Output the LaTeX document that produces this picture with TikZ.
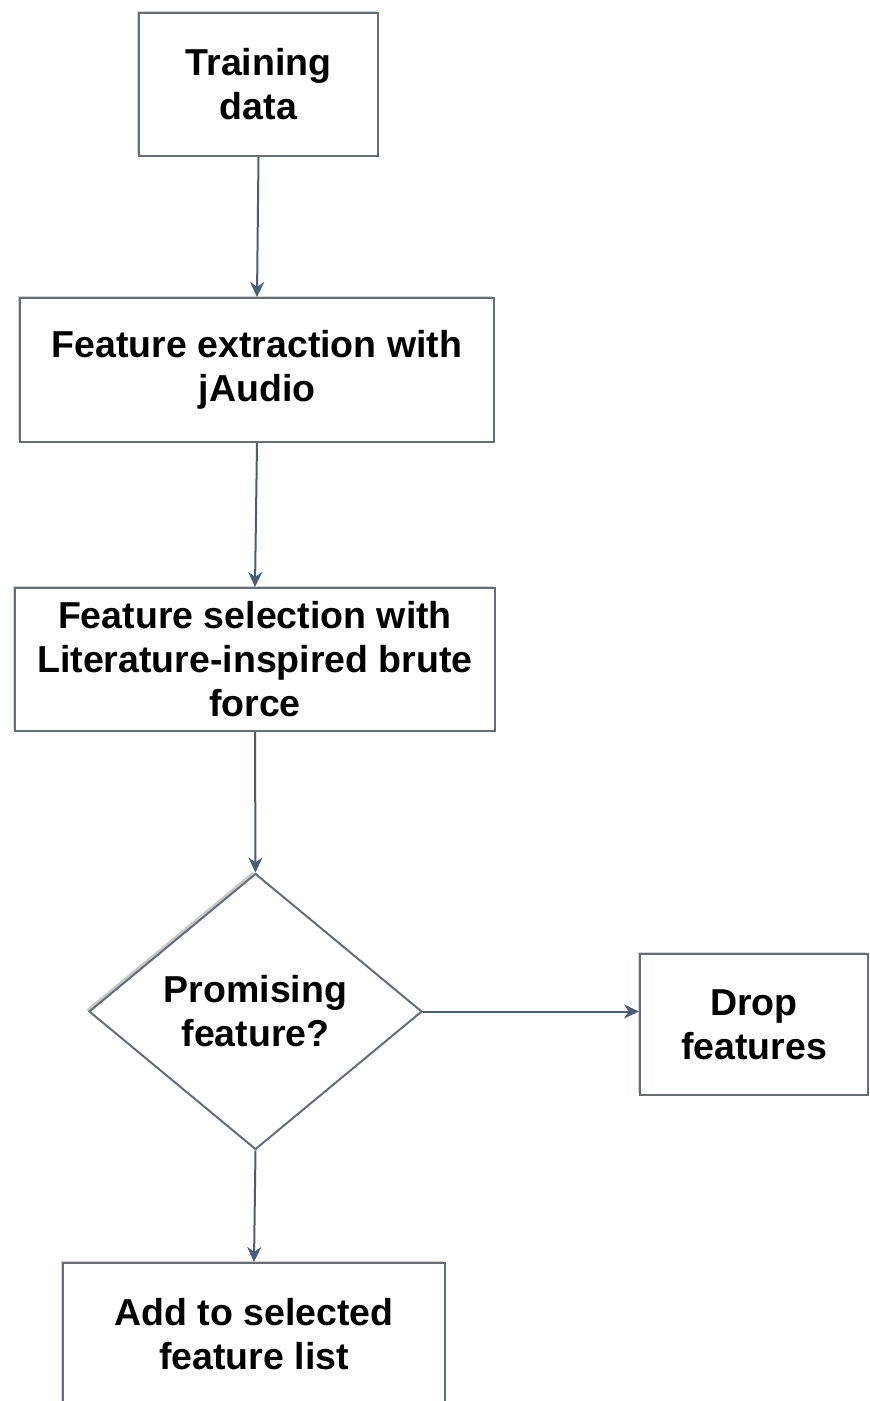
\documentclass[tikz,border=0pt]{standalone}
\usepackage{fontspec}
\setmainfont{Liberation Sans}
\usetikzlibrary{shapes.geometric,arrows.meta,shadows}
\definecolor{boxline}{RGB}{100,110,122}
\definecolor{arrowline}{RGB}{72,94,120}
\tikzset{
  boxnode/.style={draw=boxline, line width=2pt, fill=white, rectangle, inner sep=0pt,
    align=center, font=\bfseries\fontsize{37.5}{44}\selectfont,
    drop shadow={shadow xshift=-2pt, shadow yshift=2pt, opacity=0.25, fill=black!70}},
  decnode/.style={draw=boxline, line width=2pt, fill=white, diamond, inner sep=0pt,
    align=center, font=\bfseries\fontsize{37.5}{44}\selectfont,
    drop shadow={shadow xshift=-3pt, shadow yshift=2pt, opacity=0.3, fill=black!70}},
  flow/.style={draw=arrowline, line width=2pt, -{Stealth[length=15pt,width=14pt]}}
}
\begin{document}
\begin{tikzpicture}[x=1pt,y=-1pt]
\useasboundingbox (0,0) rectangle (870,1401);
\node[boxnode, minimum width=239pt, minimum height=143pt] (train) at (258.5,84.5) {Training\\data};
\node[boxnode, minimum width=474pt, minimum height=144pt] (extract) at (257,370) {Feature extraction with\\jAudio};
\node[boxnode, minimum width=480pt, minimum height=143pt] (select) at (255,659.5) {Feature selection with\\Literature-inspired brute\\force};
\node[decnode, minimum width=333pt, minimum height=276pt] (promise) at (255.5,1011.5) {Promising\\feature?};
\node[boxnode, minimum width=228pt, minimum height=141pt] (drop) at (754,1024.5) {Drop\\features};
\node[boxnode, minimum width=382pt, minimum height=142pt] (add) at (254,1334) {Add to selected\\feature list};
\draw[flow] (train.south) -- (extract.north);
\draw[flow] (extract.south) -- (select.north);
\draw[flow] (select.south) -- (promise.north);
\draw[flow] (promise.east) -- (promise.east -| drop.west);
\draw[flow] (promise.south) -- (add.north);
\end{tikzpicture}
\end{document}
